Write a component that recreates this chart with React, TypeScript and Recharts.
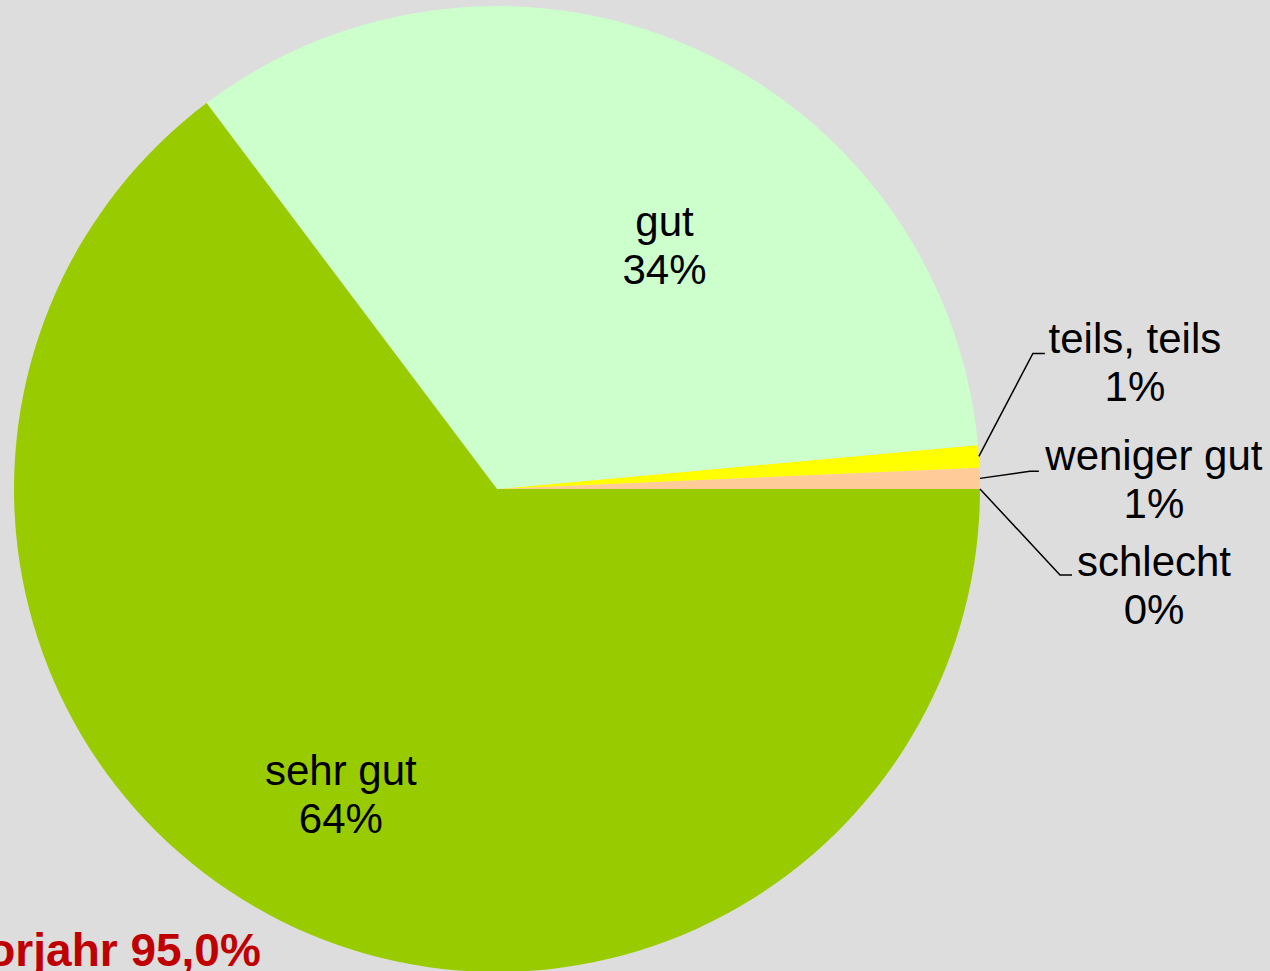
import React from 'react';
import { PieChart, Pie, Cell } from 'recharts';

// Categories in drawing order (counter-clockwise from 3 o'clock)
const categories = ['schlecht', 'weniger gut', 'teils, teils', 'gut', 'sehr gut'];
// Shares in percent
const values = [0, 0.7, 0.75, 33.8, 64.7];
// Percent labels as printed in the chart
const percentLabels = ['0%', '1%', '1%', '34%', '64%'];
const colors = ['#ff0000', '#ffcc99', '#ffff00', '#ccffcc', '#99cc00'];

const data = categories.map((name, i) => ({ name, value: values[i] }));

const FONT = '"Liberation Sans", Arial, sans-serif';
const RADIAN = Math.PI / 180;

// label placement settings (kept apart from the data)
type Inside = { kind: 'in'; k: number; dAngle: number };
type Outside = { kind: 'out'; elbow: [number, number]; end: [number, number]; text: [number, number] };
const labelPlacement: Record<string, Inside | Outside> = {
  'schlecht': { kind: 'out', elbow: [80, 86], end: [92, 86], text: [174, 87] },
  'weniger gut': { kind: 'out', elbow: [50, -7], end: [59, -7], text: [174, -8] },
  'teils, teils': { kind: 'out', elbow: [54, -103], end: [66, -103], text: [156, -103] },
  'gut': { kind: 'in', k: 0.587, dAngle: -12.3 },
  'sehr gut': { kind: 'in', k: 0.737, dAngle: 0.5 },
};

const LINE_H = 48;
const FS = 42;

const renderLabel = (props: any) => {
  const { cx, cy, midAngle, outerRadius, index } = props;
  const name = categories[index];
  const pct = percentLabels[index];
  const cfg = labelPlacement[name];
  if (cfg.kind === 'in') {
    const a = -(midAngle + cfg.dAngle) * RADIAN;
    const x = cx + outerRadius * cfg.k * Math.cos(a);
    const y = cy + outerRadius * cfg.k * Math.sin(a);
    return (
      <text key={`l-${index}`} x={x} y={y} textAnchor="middle" fontFamily={FONT} fontSize={FS} fill="#000">
        <tspan x={x} y={y - LINE_H / 2}>{name}</tspan>
        <tspan x={x} y={y + LINE_H / 2}>{pct}</tspan>
      </text>
    );
  }
  const a = -midAngle * RADIAN;
  const ex = cx + outerRadius * Math.cos(a);
  const ey = cy + outerRadius * Math.sin(a);
  const tx = ex + cfg.text[0];
  const ty = ey + cfg.text[1];
  return (
    <g key={`l-${index}`}>
      <polyline
        points={`${ex},${ey} ${ex + cfg.elbow[0]},${ey + cfg.elbow[1]} ${ex + cfg.end[0]},${ey + cfg.end[1]}`}
        fill="none"
        stroke="#000"
        strokeWidth={1.5}
      />
      <text x={tx} y={ty} textAnchor="middle" fontFamily={FONT} fontSize={FS} fill="#000">
        <tspan x={tx} y={ty}>{name}</tspan>
        <tspan x={tx} y={ty + LINE_H}>{pct}</tspan>
      </text>
    </g>
  );
};

export default function App() {
  return (
    <div
      style={{
        position: 'absolute',
        left: 0,
        top: 0,
        width: 1270,
        height: 971,
        overflow: 'hidden',
        background: '#dddddd',
      }}
    >
      <PieChart width={1270} height={971} margin={{ top: 0, right: 0, bottom: 0, left: 0 }}>
        <Pie
          data={data}
          dataKey="value"
          nameKey="name"
          cx={497}
          cy={489}
          outerRadius={483}
          startAngle={0}
          endAngle={360}
          stroke="none"
          label={renderLabel}
          labelLine={false}
          isAnimationActive={false}
        >
          {data.map((d, i) => (
            <Cell key={d.name} fill={colors[i]} />
          ))}
        </Pie>
      </PieChart>
      <svg
        width={1270}
        height={971}
        style={{ position: 'absolute', left: 0, top: 0, pointerEvents: 'none' }}
      >
        <text x={-40} y={966} fontFamily={FONT} fontSize={46} fontWeight="bold" fill="#c00000">
          Vorjahr 95,0%
        </text>
      </svg>
    </div>
  );
}
